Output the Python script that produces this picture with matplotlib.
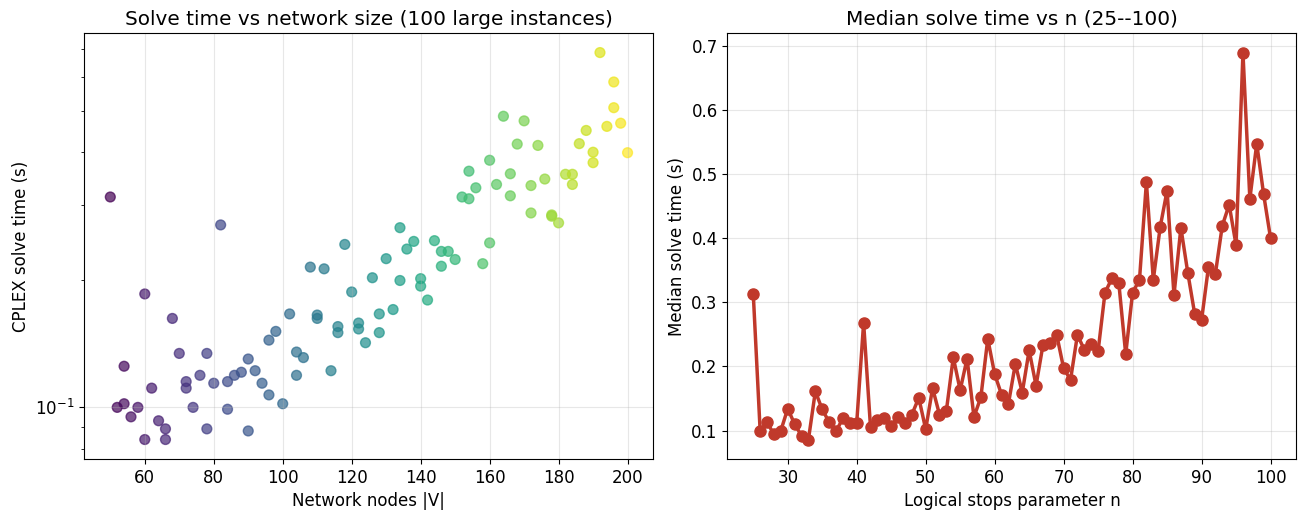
import numpy as np
import matplotlib
matplotlib.use("Agg")
import matplotlib.pyplot as plt

# Left panel: network size vs CPLEX solve time
nodes = [50, 82, 60, 68, 54, 70, 78, 62, 72, 72, 76, 80, 84, 86, 88, 90, 92, 94, 96, 96,
         98, 100, 52, 54, 58, 56, 74, 84, 64, 66, 60, 66, 78, 90,
         102, 108, 112, 118, 110, 110, 104, 106, 104, 114, 120, 116, 116, 122, 122, 124,
         126, 130, 128, 128, 132, 134, 134, 136, 138, 140, 140, 142, 144, 146, 148, 150,
         146, 154, 152, 154,
         156, 160, 160, 158, 162, 164, 166, 166, 168, 170, 172, 172, 174, 176, 178, 178,
         180, 182, 184, 184, 186, 188, 190, 190, 192, 194, 196, 196, 198, 200]
solve_time = [0.313, 0.269, 0.185, 0.162, 0.125, 0.134, 0.134, 0.111, 0.115, 0.111,
              0.119, 0.114, 0.115, 0.119, 0.121, 0.130, 0.122, 0.114, 0.107, 0.144,
              0.151, 0.102, 0.100, 0.102, 0.100, 0.095, 0.100, 0.099, 0.093, 0.089,
              0.084, 0.084, 0.089, 0.088,
              0.166, 0.214, 0.212, 0.242, 0.165, 0.162, 0.135, 0.131, 0.119, 0.122,
              0.187, 0.155, 0.150, 0.158, 0.153, 0.142, 0.202, 0.224, 0.166, 0.150,
              0.170, 0.265, 0.199, 0.236, 0.246, 0.201, 0.193, 0.179, 0.247, 0.233,
              0.233, 0.223, 0.215, 0.360, 0.313, 0.310,
              0.329, 0.382, 0.244, 0.218, 0.335, 0.485, 0.355, 0.315, 0.417, 0.473,
              0.333, 0.287, 0.414, 0.345, 0.282, 0.284, 0.272, 0.354, 0.354, 0.335,
              0.418, 0.449, 0.399, 0.377, 0.685, 0.459, 0.584, 0.508, 0.467, 0.398]

# Right panel: median solve time per n
n_values = list(range(25, 101))
median_time = [0.313, 0.099, 0.113, 0.094, 0.100, 0.134, 0.110, 0.092, 0.086, 0.161,
               0.133, 0.113, 0.099, 0.119, 0.111, 0.112, 0.268, 0.105, 0.117, 0.120,
               0.107, 0.121, 0.112, 0.125, 0.151, 0.102, 0.166, 0.125, 0.131, 0.214,
               0.163, 0.212, 0.121, 0.152, 0.243, 0.188, 0.156, 0.142, 0.204, 0.159,
               0.225, 0.170, 0.233, 0.237, 0.249, 0.197, 0.179, 0.249, 0.226, 0.235,
               0.224, 0.315, 0.337, 0.330, 0.219, 0.315, 0.335, 0.487, 0.335, 0.417,
               0.474, 0.311, 0.416, 0.346, 0.282, 0.272, 0.355, 0.344, 0.419, 0.452,
               0.389, 0.689, 0.461, 0.547, 0.468, 0.400]

plt.rcParams["font.size"] = 12

fig, (ax1, ax2) = plt.subplots(1, 2, figsize=(12.99, 5.11), dpi=100)
fig.subplots_adjust(left=0.065, right=0.998, bottom=0.102, top=0.935, wspace=0.13)

ax1.scatter(nodes, solve_time, c=nodes, cmap="viridis", s=50, alpha=0.7)
ax1.set_yscale("log")
ax1.set_title("Solve time vs network size (100 large instances)")
ax1.set_xlabel("Network nodes |V|")
ax1.set_ylabel("CPLEX solve time (s)")
ax1.grid(True, alpha=0.3)

ax2.plot(n_values, median_time, marker="o", color="#c0392b", linewidth=2.5, markersize=8)
ax2.set_title("Median solve time vs n (25--100)")
ax2.set_xlabel("Logical stops parameter n")
ax2.set_ylabel("Median solve time (s)")
ax2.grid(True, alpha=0.3)

plt.savefig("out.png")
plt.close()
